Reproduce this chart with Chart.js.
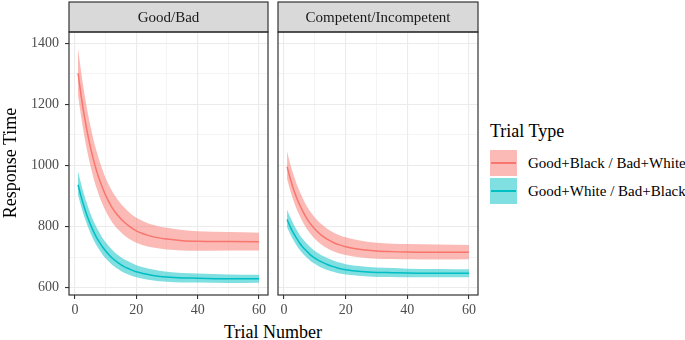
<!DOCTYPE html>
<html>
<head>
<meta charset="utf-8">
<script src="https://cdn.jsdelivr.net/npm/chart.js@4.4.1/dist/chart.umd.min.js"></script>
<style>
  body { margin: 0; background: #fff; }
  #wrap { position: relative; width: 685px; height: 340px; overflow: hidden;
          font-family: "Liberation Serif", "Times New Roman", serif; color: #000; }
  #wrap canvas { position: absolute; top: 0; }
  #ytitle { position: absolute; left: -90px; top: 153px; width: 200px; height: 20px;
            line-height: 20px; font-size: 18px; text-align: center; transform: rotate(-90deg); }
  #xtitle { position: absolute; left: 173px; top: 322px; width: 200px; height: 20px;
            line-height: 20px; font-size: 18px; text-align: center; }
  #legend-title { position: absolute; left: 490px; top: 121px; font-size: 18px; line-height: 20px; }
  .key { position: absolute; left: 490px; width: 27px; height: 26px; }
  .key span { position: absolute; left: 1px; right: 1px; top: 12px; height: 1.5px; }
  .key-label { position: absolute; left: 528px; font-size: 15px; line-height: 18px; white-space: nowrap; }
</style>
</head>
<body>
<div id="wrap">
  <canvas id="chart-gb" width="272" height="320" style="left:0px"></canvas>
  <canvas id="chart-ci" width="212" height="320" style="left:272px"></canvas>
  <div id="ytitle">Response Time</div>
  <div id="xtitle">Trial Number</div>
  <div id="legend-title">Trial Type</div>
  <div id="legend"></div>
</div>
<script>
// trial numbers the fitted curves are read at
const trials = [1, 2, 3, 4, 5, 6, 7, 8, 9, 10, 12, 14, 16, 18, 20, 25, 30, 35, 40, 50, 60];

const seriesNames = ['Good+Black / Bad+White', 'Good+White / Bad+Black'];
const panelTitles = ['Good/Bad', 'Competent/Incompetent'];

// Good/Bad
const gbBlackMean  = [1302, 1229, 1165, 1109, 1062, 1020, 984, 953, 926, 902, 864, 836, 815, 799, 786, 768, 759, 754, 752, 751, 750];
const gbBlackUpper = [1384, 1307, 1240, 1181, 1131, 1086, 1048, 1015, 985, 959, 918, 887, 863, 844, 829, 807, 796, 789, 785, 782, 780];
const gbBlackLower = [1230, 1160, 1099, 1046, 1001, 961, 927, 898, 873, 851, 816, 791, 772, 758, 747, 732, 725, 722, 721, 722, 722];
const gbWhiteMean  = [937, 898, 864, 834, 808, 785, 765, 748, 733, 720, 698, 682, 669, 660, 652, 641, 635, 632, 631, 629, 629];
const gbWhiteUpper = [980, 939, 903, 872, 844, 819, 798, 780, 763, 749, 725, 707, 693, 683, 673, 660, 652, 648, 646, 643, 642];
const gbWhiteLower = [904, 866, 834, 805, 780, 758, 739, 723, 708, 696, 676, 661, 649, 641, 634, 624, 619, 617, 617, 615, 616];

// Competent/Incompetent
const ciBlackMean  = [996, 958, 925, 897, 873, 852, 833, 817, 804, 792, 773, 759, 748, 740, 734, 725, 720, 718, 717, 716, 716];
const ciBlackUpper = [1046, 1006, 972, 942, 917, 894, 874, 857, 843, 830, 809, 793, 781, 772, 765, 754, 747, 744, 743, 741, 740];
const ciBlackLower = [956, 919, 887, 860, 837, 817, 799, 784, 772, 760, 742, 729, 719, 712, 707, 699, 695, 694, 693, 692, 693];
const ciWhiteMean  = [823, 800, 780, 763, 747, 734, 723, 713, 704, 697, 685, 676, 669, 663, 659, 653, 650, 649, 648, 647, 647];
const ciWhiteUpper = [855, 831, 810, 791, 774, 760, 749, 738, 728, 720, 707, 697, 689, 682, 677, 670, 666, 664, 662, 661, 660];
const ciWhiteLower = [798, 776, 757, 740, 725, 713, 702, 693, 684, 678, 666, 658, 652, 646, 643, 638, 635, 635, 634, 634, 634];

const lineColors = ['#F8766D', '#00BFC4'];
const bandColors = ['rgba(248,118,109,0.5)', 'rgba(0,191,196,0.5)'];

function pts(values) {
    return values.map(function (v, i) { return { x: trials[i], y: v }; });
}

// ribbon = upper filled down to lower, then the fitted line on top
function seriesSets(idx, mean, upper, lower) {
    return [
        { data: pts(upper), borderWidth: 0, pointRadius: 0, fill: '+1',
          backgroundColor: bandColors[idx], cubicInterpolationMode: 'monotone', order: 1 },
        { data: pts(lower), borderWidth: 0, pointRadius: 0, fill: false,
          cubicInterpolationMode: 'monotone', order: 1 },
        { label: seriesNames[idx], data: pts(mean), borderColor: lineColors[idx], borderWidth: 1.5,
          pointRadius: 0, fill: false, cubicInterpolationMode: 'monotone', order: 0 }
    ];
}

// grey facet strip + dark panel border
const stripPlugin = {
    id: 'strip',
    afterDraw: function (chart, args, opts) {
        const ctx = chart.ctx;
        const a = chart.chartArea;
        ctx.save();
        ctx.fillStyle = '#d9d9d9';
        ctx.fillRect(a.left, 2, a.right - a.left, a.top - 2);
        ctx.strokeStyle = '#333333';
        ctx.lineWidth = 1.2;
        ctx.strokeRect(a.left, 2, a.right - a.left, a.top - 2);
        ctx.strokeRect(a.left, a.top, a.right - a.left, a.bottom - a.top);
        ctx.fillStyle = '#1a1a1a';
        ctx.font = '15px "Liberation Serif"';
        ctx.textAlign = 'center';
        ctx.textBaseline = 'middle';
        ctx.fillText(opts.title, (a.left + a.right) / 2, (2 + a.top) / 2 + 1);
        ctx.restore();
    }
};

const tickFont = { family: 'Liberation Serif', size: 14 };

function makePanel(id, title, datasets, showY, padding) {
    return new Chart(document.getElementById(id), {
        type: 'line',
        data: { datasets: datasets },
        options: {
            responsive: false,
            animation: false,
            layout: { padding: padding },
            plugins: { legend: { display: false }, tooltip: { enabled: false }, strip: { title: title } },
            scales: {
                x: {
                    type: 'linear', min: -1.95, max: 62.95,
                    afterFit: function (s) { s.height = 25; },
                    border: { display: false },
                    grid: {
                        color: '#ebebeb',
                        lineWidth: function (c) { return c.tick && c.tick.value % 20 === 0 ? 1.1 : 0.55; },
                        tickColor: function (c) { return c.tick && c.tick.value % 20 === 0 ? '#333333' : 'rgba(0,0,0,0)'; },
                        tickLength: 4, tickWidth: 1.1
                    },
                    ticks: {
                        stepSize: 10, includeBounds: false, autoSkip: false, maxRotation: 0,
                        padding: 3, color: '#4d4d4d', font: tickFont,
                        callback: function (v) { return v % 20 === 0 ? v : ''; }
                    }
                },
                y: {
                    min: 576, max: 1437,
                    afterFit: function (s) { s.width = showY ? 69 : 0; },
                    border: { display: false },
                    grid: {
                        color: '#ebebeb',
                        lineWidth: function (c) { return c.tick && c.tick.value % 200 === 0 ? 1.1 : 0.55; },
                        tickColor: function (c) { return c.tick && c.tick.value % 200 === 0 ? '#333333' : 'rgba(0,0,0,0)'; },
                        drawTicks: showY, tickLength: 4, tickWidth: 1.1
                    },
                    ticks: {
                        display: showY, stepSize: 100, includeBounds: false, autoSkip: false,
                        padding: 6, color: '#4d4d4d', font: tickFont,
                        callback: function (v) { return v % 200 === 0 ? v : ''; }
                    }
                }
            }
        },
        plugins: [stripPlugin]
    });
}

makePanel('chart-gb', panelTitles[0],
    seriesSets(0, gbBlackMean, gbBlackUpper, gbBlackLower).concat(seriesSets(1, gbWhiteMean, gbWhiteUpper, gbWhiteLower)),
    true, { top: 32, right: 4, left: 0, bottom: 0 });

makePanel('chart-ci', panelTitles[1],
    seriesSets(0, ciBlackMean, ciBlackUpper, ciBlackLower).concat(seriesSets(1, ciWhiteMean, ciWhiteUpper, ciWhiteLower)),
    false, { top: 32, right: 6, left: 6, bottom: 0 });

// legend keys: shaded box with the line through it
var legend = document.getElementById('legend');
seriesNames.forEach(function (name, i) {
    var top = 150 + i * 28.3;
    var key = document.createElement('div');
    key.className = 'key';
    key.style.top = top + 'px';
    key.style.background = bandColors[i];
    var ln = document.createElement('span');
    ln.style.background = lineColors[i];
    key.appendChild(ln);
    legend.appendChild(key);
    var lab = document.createElement('div');
    lab.className = 'key-label';
    lab.style.top = (top + 3.5) + 'px';
    lab.textContent = name;
    legend.appendChild(lab);
});
</script>
</body>
</html>
